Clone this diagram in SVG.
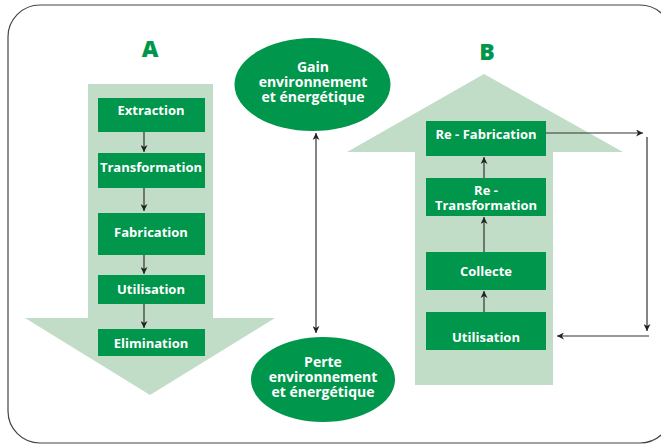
<svg xmlns="http://www.w3.org/2000/svg" width="661" height="445" viewBox="0 0 661 445">
<defs>
<style>
.box{fill:#00964b}
.bg{fill:#c2ddc7}
.t{font-family:"Open Sans","Lato","Liberation Sans",sans-serif;font-weight:bold;font-size:13px;fill:#fff;text-anchor:middle}
.te{font-family:"Open Sans","Lato","Liberation Sans",sans-serif;font-weight:bold;font-size:14px;fill:#fff;text-anchor:middle}
.big{font-family:"Open Sans","Lato","Liberation Sans",sans-serif;font-weight:800;font-size:23px;fill:#00964b;text-anchor:middle}
.ln{stroke:#333;stroke-width:1.2;fill:none}
</style>
<marker id="ah" viewBox="0 0 10 10" refX="10" refY="5" markerWidth="7" markerHeight="7" orient="auto-start-reverse" markerUnits="userSpaceOnUse">
<path d="M0,0 L10,5 L0,10 L3,5 Z" fill="#222"/>
</marker>
</defs>
<rect x="8" y="5" width="664" height="438" rx="32" fill="#fff" stroke="#444" stroke-width="1.2"/>
<g id="arrowA">
<polygon class="bg" points="88,84 213,84 213,318 275,318 150,395 25,318 88,318"/>
<text class="big" x="150" y="57">A</text>
</g>
<g id="arrowB">
<polygon class="bg" points="484,74 623,152 553,152 553,385 415,385 415,152 347,152"/>
<text class="big" x="487" y="60">B</text>
</g>
<g id="extraction"><rect class="box" x="98" y="98" width="107" height="34"/><text class="t" x="151" y="115">Extraction</text></g>
<g id="transformation"><rect class="box" x="98" y="153" width="107" height="35"/><text class="t" x="151" y="172">Transformation</text></g>
<g id="fabrication"><rect class="box" x="98" y="213" width="107" height="42"/><text class="t" x="151" y="237">Fabrication</text></g>
<g id="utilisationA"><rect class="box" x="98" y="275" width="107" height="29"/><text class="t" x="151" y="294">Utilisation</text></g>
<g id="elimination"><rect class="box" x="98" y="329" width="107" height="27"/><text class="t" x="151" y="348">Elimination</text></g>
<g id="gain"><ellipse class="box" cx="312.5" cy="84.5" rx="78" ry="46.5"/><text class="te" x="313" y="72">Gain</text><text class="te" x="313" y="87">environnement</text><text class="te" x="313" y="102">et énergétique</text></g>
<g id="perte"><ellipse class="box" cx="323" cy="379.5" rx="72" ry="42.5"/><text class="te" x="323" y="367">Perte</text><text class="te" x="323" y="382">environnement</text><text class="te" x="323" y="397">et énergétique</text></g>
<g id="refabrication"><rect class="box" x="426" y="121" width="120" height="35"/><text class="t" x="486" y="139">Re - Fabrication</text></g>
<g id="retransformation"><rect class="box" x="426" y="178" width="120" height="38"/><text class="t" x="486" y="195">Re -</text><text class="t" x="486" y="210">Transformation</text></g>
<g id="collecte"><rect class="box" x="426" y="252" width="120" height="38"/><text class="t" x="486" y="276">Collecte</text></g>
<g id="utilisationB"><rect class="box" x="426" y="312" width="120" height="38"/><text class="t" x="486" y="342">Utilisation</text></g>
<g id="connectors">
<line class="ln" x1="144" y1="132" x2="144" y2="152" marker-end="url(#ah)"/>
<line class="ln" x1="144" y1="188" x2="144" y2="211" marker-end="url(#ah)"/>
<line class="ln" x1="144" y1="255" x2="144" y2="274" marker-end="url(#ah)"/>
<line class="ln" x1="144" y1="304" x2="144" y2="328" marker-end="url(#ah)"/>
<line class="ln" x1="316" y1="133" x2="316" y2="333" marker-start="url(#ah)" marker-end="url(#ah)"/>
<line class="ln" x1="484" y1="178" x2="484" y2="157" marker-end="url(#ah)"/>
<line class="ln" x1="484" y1="252" x2="484" y2="217" marker-end="url(#ah)"/>
<line class="ln" x1="484" y1="312" x2="484" y2="291" marker-end="url(#ah)"/>
<line class="ln" x1="546" y1="133" x2="643" y2="133" marker-end="url(#ah)"/>
<line class="ln" x1="647" y1="137" x2="647" y2="331" marker-end="url(#ah)"/>
<line class="ln" x1="649" y1="336" x2="557" y2="336" marker-end="url(#ah)"/>
</g>
</svg>
